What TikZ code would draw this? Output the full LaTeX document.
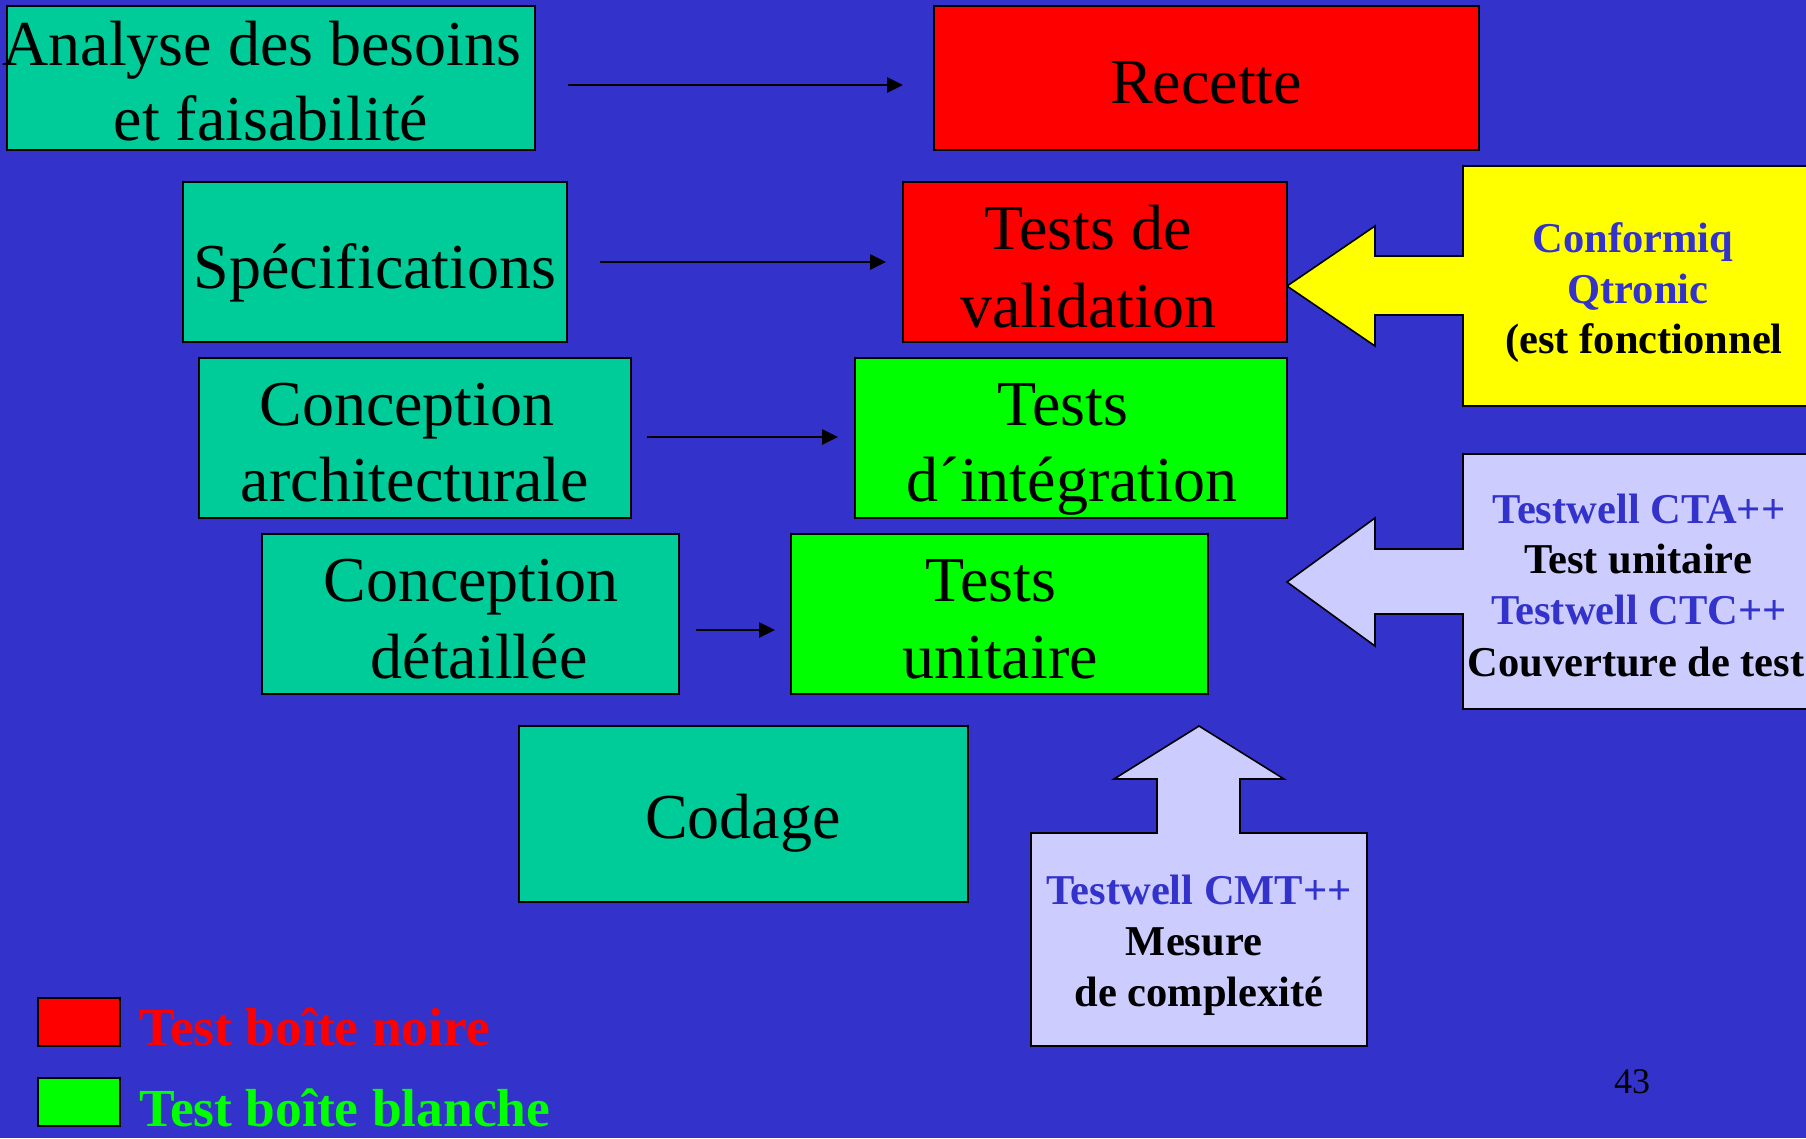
\documentclass[tikz,border=0pt]{standalone}
\usepackage{fontspec}
\setmainfont{Liberation Serif}
\usetikzlibrary{arrows.meta,fit}
\definecolor{slidebg}{HTML}{3333CC}
\definecolor{phase}{HTML}{00CC99}
\definecolor{blackbox}{HTML}{FF0000}
\definecolor{whitebox}{HTML}{00FF00}
\definecolor{tool}{HTML}{CCCCFF}
\definecolor{note}{HTML}{FFFF00}
\definecolor{toolname}{HTML}{3333CC}
\begin{document}
\begin{tikzpicture}[x=1pt,y=-1pt,
  box/.style={draw=black, line width=2.2pt, inner sep=0pt, outer sep=0pt},
  phasebox/.style={box, fill=phase},
  blackbox/.style={box, fill=blackbox},
  whitebox/.style={box, fill=whitebox},
  big/.style={font=\fontsize{64}{75}\selectfont, anchor=base, inner sep=0pt},
  toolname/.style={font=\bfseries\fontsize{42.5}{51}\selectfont, text=toolname, anchor=base, inner sep=0pt},
  tooltext/.style={font=\bfseries\fontsize{42.5}{51}\selectfont, text=black, anchor=base, inner sep=0pt},
  legendtext/.style={font=\bfseries\fontsize{53.5}{62}\selectfont, anchor=base west, inner sep=0pt},
  conn/.style={draw=black, line width=2.6pt, -{Triangle[length=16pt,width=15pt]}},
  callout/.style={draw=black, line width=1.6pt, line join=miter}]

% slide background
\clip (0,0) rectangle (1806,1138);
\fill[slidebg] (0,0) rectangle (1806,1138);

% development phases (left) and test phases (right)
\node[phasebox, fit={(7,6) (535,150)}] (ana) {};
\node[blackbox, fit={(934,6) (1479,150)}] (rec) {};
\node[phasebox, fit={(183,182) (567,342)}] (spec) {};
\node[blackbox, fit={(903,182) (1287,342)}] (valid) {};
\node[phasebox, fit={(199,358) (631,518)}] (arch) {};
\node[whitebox, fit={(855,358) (1287,518)}] (integ) {};
\node[phasebox, fit={(262,534) (679,694)}] (det) {};
\node[whitebox, fit={(791,534) (1208,694)}] (unit) {};
\node[phasebox, fit={(519,726) (968,902)}] (cod) {};

% connectors between each phase and its test phase
\path ([shift={(33,7)}]ana.east) coordinate (a1s);
\draw[conn, shorten >=31pt] (a1s) -- (a1s -| rec.west);
\path ([shift={(33,0)}]spec.east) coordinate (a2s);
\draw[conn, shorten >=17pt] (a2s) -- (a2s -| valid.west);
\path ([shift={(16,-1)}]arch.east) coordinate (a3s);
\draw[conn, shorten >=17pt] (a3s) -- (a3s -| integ.west);
\path ([shift={(17,16)}]det.east) coordinate (a4s);
\draw[conn, shorten >=16pt] (a4s) -- (a4s -| unit.west);

% tool callouts
\draw[callout, fill=note] (1463,166) -- (1830,166) -- (1830,406) -- (1463,406)
  -- (1463,315) -- (1375,315) -- (1375,346) -- (1287,286) -- (1375,226)
  -- (1375,256) -- (1463,256) -- cycle;
\draw[callout, fill=tool] (1463,454) -- (1830,454) -- (1830,709) -- (1463,709)
  -- (1463,614) -- (1375,614) -- (1375,646) -- (1287,582) -- (1375,518)
  -- (1375,549) -- (1463,549) -- cycle;
\draw[callout, fill=tool] (1031,833) -- (1157,833) -- (1157,779) -- (1114,779)
  -- (1199,726) -- (1284,779) -- (1240,779) -- (1240,833) -- (1367,833)
  -- (1367,1046) -- (1031,1046) -- cycle;

% phase labels
\node[big] (ana1) at (262,65) {Analyse des besoins};
\node[big] (ana2) at (271,140) {et faisabilité};
\node[big] (rec1) at (1206,103) {Recette};
\node[big] (spec1) at (375,288) {Spécifications};
\node[big] (valid1) at (1088,249) {Tests de};
\node[big] (valid2) at (1088,327) {validation};
\node[big] (arch1) at (407,425) {Conception};
\node[big] (arch2) at (415,501) {architecturale};
\node[big] (integ1) at (1063,425) {Tests};
\node[big] (integ2) at (1072,501) {d´intégration};
\node[big] (det1) at (471,601) {Conception};
\node[big] (det2) at (479,678) {détaillée};
\node[big] (unit1) at (991,601) {Tests};
\node[big] (unit2) at (1000,678) {unitaire};
\node[big] (cod1) at (743,838) {Codage};

% callout labels
\node[toolname] (cq1) at (1633,252) {Conformiq};
\node[toolname] (cq2) at (1638,303) {Qtronic};
\node[tooltext] (cq3) at (1644,353) {(est fonctionnel};
\node[toolname] (cta1) at (1639,523) {Testwell CTA++};
\node[tooltext] (cta2) at (1638,573) {Test unitaire};
\node[toolname] (ctc1) at (1639,624) {Testwell CTC++};
\node[tooltext] (ctc2) at (1636,676) {Couverture de test};
\node[toolname] (cmt1) at (1199,904) {Testwell CMT++};
\node[tooltext] (cmt2) at (1194,955) {Mesure};
\node[tooltext] (cmt3) at (1199,1006) {de complexité};

% legend
\node[blackbox, fit={(38,998) (120,1046)}] (keyblack) {};
\node[whitebox, fit={(38,1078) (120,1126)}] (keywhite) {};
\node[legendtext, text=blackbox] (keyblacktxt) at (139,1045) {Test boîte noire};
\node[legendtext, text=whitebox] (keywhitetxt) at (139,1126) {Test boîte blanche};

% page number
\node[font=\fontsize{36}{40}\selectfont, anchor=base, inner sep=0pt] (page) at (1632,1093) {43};
\end{tikzpicture}
\end{document}
